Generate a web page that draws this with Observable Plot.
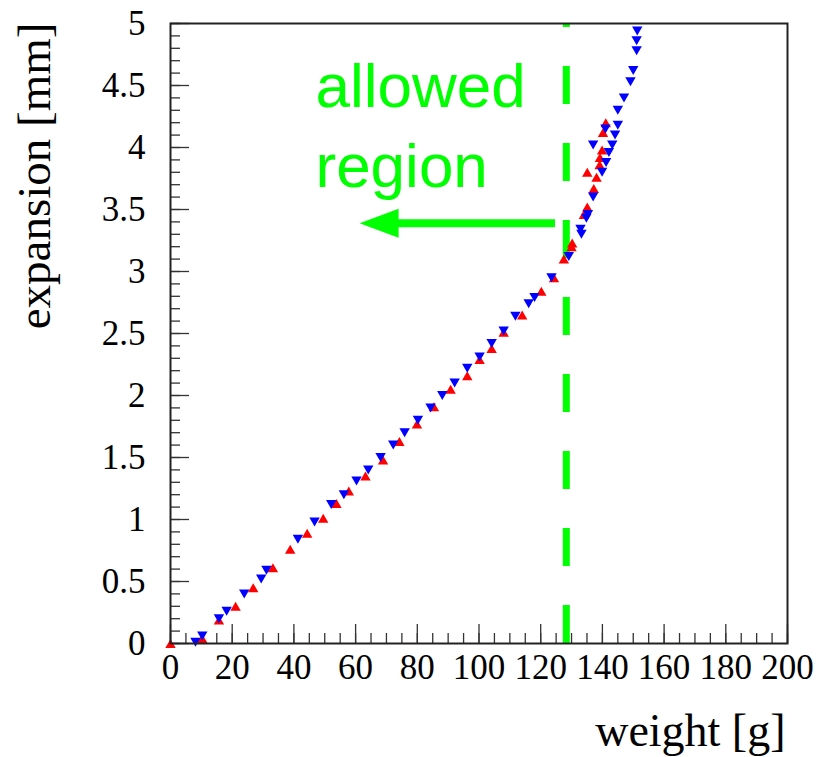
<!DOCTYPE html>
<html>
<head>
<meta charset="utf-8">
<script src="https://cdn.jsdelivr.net/npm/d3@7"></script>
<script src="https://cdn.jsdelivr.net/npm/@observablehq/plot@0.6"></script>
<style>
  html, body { margin: 0; padding: 0; background: white; }
</style>
</head>
<body>
<div id="chart"></div>
<script>
// ---- data ----
const redX = [0, 10.3, 15.7, 21.1, 26.8, 33.2, 38.8, 44.3, 49.5, 53.8, 57.8, 63.2, 68.9, 74.2, 79.9, 85.4, 90.8, 96.2, 100.2, 104.1, 108.0, 114.0, 120.2, 124.3, 127.5, 130.2, 130.0, 134.0, 135.1, 137.2, 138.1, 135.1, 139.1, 139.2, 139.9, 140.2, 141.1];
const redY = [0, 0.04, 0.19, 0.30, 0.45, 0.61, 0.76, 0.89, 1.01, 1.13, 1.23, 1.35, 1.48, 1.63, 1.77, 1.91, 2.05, 2.16, 2.29, 2.38, 2.51, 2.65, 2.84, 2.95, 3.10, 3.23, 3.20, 3.46, 3.52, 3.67, 3.76, 3.80, 3.86, 3.92, 3.98, 4.12, 4.20];

const blueX = [8.1, 10.3, 15.7, 18.2, 23.9, 29.4, 31.1, 41.3, 46.7, 52.1, 56.2, 60.3, 64.1, 68.1, 72.2, 75.9, 80.2, 84.3, 88.1, 92.1, 96.2, 100.2, 104.1, 108.0, 111.8, 116.1, 118.0, 123.5, 129.1, 132.9, 133.2, 134.8, 135.3, 137.0, 139.9, 141.2, 142.1, 143.2, 137.0, 144.1, 141.0, 145.0, 145.0, 147.0, 149.1, 150.0, 151.1, 151.1, 151.3];
const blueY = [0.01, 0.06, 0.20, 0.26, 0.40, 0.52, 0.59, 0.84, 0.98, 1.12, 1.20, 1.31, 1.40, 1.50, 1.60, 1.70, 1.80, 1.90, 2.00, 2.10, 2.22, 2.31, 2.42, 2.52, 2.64, 2.74, 2.79, 2.95, 3.12, 3.34, 3.30, 3.43, 3.46, 3.60, 3.80, 3.88, 3.96, 4.02, 4.02, 4.10, 4.15, 4.18, 4.30, 4.40, 4.53, 4.62, 4.78, 4.86, 4.94];

// tick labels
const xTickLabels = [0, 20, 40, 60, 80, 100, 120, 140, 160, 180, 200];
const yTickLabels = [0, 0.5, 1, 1.5, 2, 2.5, 3, 3.5, 4, 4.5, 5];
const xMinorTicks = d3.range(0, 201, 5);
const yMinorTicks = d3.range(0, 51, 1).map(d => d / 10);

// annotation
const cutX = [128.3];                 // threshold weight
const noteText = ["allowed\nregion"];
const noteX = [47];
const noteY = [3.68];
const arrowY = [3.39];
const arrowTail = [124.8];
const arrowTip = [61.3];

const xLabel = "weight [g]";
const yLabel = "expansion [mm]";

// ---- build ----
const red = redX.map((x, i) => ({x, y: redY[i]}));
const blue = blueX.map((x, i) => ({x, y: blueY[i]}));
const notes = noteText.map((t, i) => ({t, x: noteX[i], y: noteY[i]}));
const arrows = arrowY.map((y, i) => ({y, x1: arrowTail[i], x2: arrowTip[i]}));

const triUp = {draw(ctx) { ctx.moveTo(0, -4.5); ctx.lineTo(5.2, 4.5); ctx.lineTo(-5.2, 4.5); ctx.closePath(); }};
const triDown = {draw(ctx) { ctx.moveTo(0, 4.5); ctx.lineTo(5.2, -4.5); ctx.lineTo(-5.2, -4.5); ctx.closePath(); }};
const headLeft = {draw(ctx) { ctx.moveTo(0, 0); ctx.lineTo(39, -14.5); ctx.lineTo(39, 14.5); ctx.closePath(); }};

const green = "#00ff00";
const innerH = 757 - 23 - 114;
const innerW = 818 - 170 - 31;
const fmt = d => String(d);

const chart = Plot.plot({
  width: 818,
  height: 757,
  marginLeft: 170,
  marginRight: 31,
  marginTop: 23,
  marginBottom: 114,
  x: {domain: [0, 200]},
  y: {domain: [0, 5]},
  style: {fontFamily: "'Liberation Serif', serif", background: "white", color: "black"},
  marks: [
    // minor and major ticks, pointing inward (ROOT style)
    Plot.tickX(xMinorTicks, {x: d => d, insetTop: innerH - 10, stroke: "#333", strokeWidth: 1.3}),
    Plot.tickX(xTickLabels, {x: d => d, insetTop: innerH - 19, stroke: "#333", strokeWidth: 1.3}),
    Plot.tickY(yMinorTicks, {y: d => d, insetRight: innerW - 10, stroke: "#333", strokeWidth: 1.3}),
    Plot.tickY(yTickLabels, {y: d => d, insetRight: innerW - 19, stroke: "#333", strokeWidth: 1.3}),
    Plot.axisX(xTickLabels, {tickSize: 0, tickPadding: 11, fontSize: 35, label: null, fill: "black", tickFormat: fmt}),
    Plot.axisY(yTickLabels, {tickSize: 0, tickPadding: 25, fontSize: 35, label: null, fill: "black", tickFormat: fmt}),
    // threshold line
    Plot.ruleX(cutX, {x: d => d, y1: 0, y2: 5, stroke: green, strokeWidth: 7, strokeDasharray: "38,39"}),
    // arrow
    Plot.ruleY(arrows, {y: "y", x1: d => d.x1, x2: d => d.x2 + 4, stroke: green, strokeWidth: 8}),
    Plot.dot(arrows, {x: "x2", y: "y", symbol: headLeft, fill: green, stroke: null}),
    // annotation text
    Plot.text(notes, {x: "x", y: "y", text: "t", textAnchor: "start", lineAnchor: "bottom", lineHeight: 1.29,
      fontSize: 62, fontFamily: "'Liberation Sans', Arial, sans-serif", fill: green}),
    // data
    Plot.dot(red, {x: "x", y: "y", symbol: triUp, fill: "#ff0000", stroke: null}),
    Plot.dot(blue, {x: "x", y: "y", symbol: triDown, fill: "#0000ff", stroke: null}),
    // axis titles
    Plot.text([xLabel], {frameAnchor: "bottom-right", text: d => d, textAnchor: "end", lineAnchor: "bottom",
      dx: -2, dy: 102, fontSize: 46, fill: "black"}),
    Plot.text([yLabel], {frameAnchor: "top-left", text: d => d, textAnchor: "end", lineAnchor: "bottom",
      rotate: -90, dx: -121, dy: -1, fontSize: 47, fill: "black"}),
    Plot.frame({stroke: "#222", strokeWidth: 2})
  ]
});
document.getElementById("chart").appendChild(chart);
</script>
</body>
</html>
